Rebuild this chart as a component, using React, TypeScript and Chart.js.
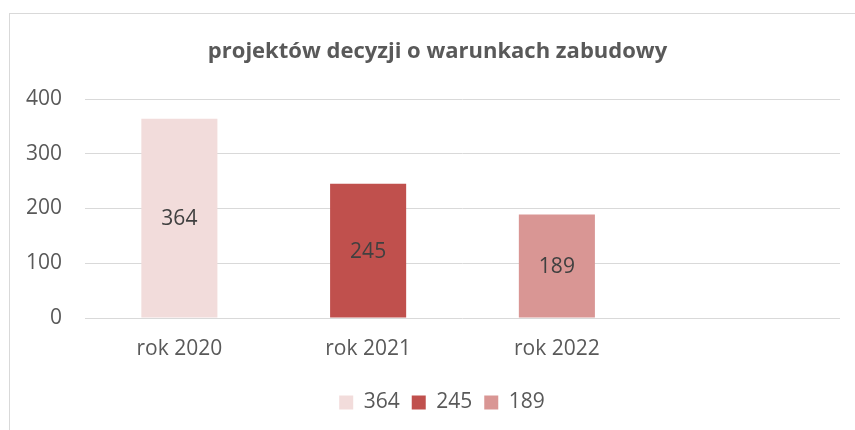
import React, { useEffect, useRef } from 'react';
import { Chart, registerables } from 'chart.js';

Chart.register(...registerables);

const chartTitle = 'projektów decyzji o warunkach zabudowy';
const categories = ['rok 2020', 'rok 2021', 'rok 2022', ''];
const seriesNames = ['364', '245', '189'];
const seriesValues = [364, 245, 189];
const seriesColors = ['#F2DCDB', '#C0504D', '#D99694'];
const yMin = 0;
const yMax = 400;
const yStep = 100;

const FONT = '"Open Sans", "Liberation Sans", sans-serif';

const barLabels = {
  id: 'barLabels',
  afterDatasetsDraw(chart: any) {
    const ctx = chart.ctx;
    chart.data.datasets.forEach((ds: any, i: number) => {
      const meta = chart.getDatasetMeta(i);
      meta.data.forEach((el: any, j: number) => {
        const v = ds.data[j];
        if (v === null || v === undefined) return;
        const p = el.getProps(['x', 'y', 'base'], true);
        ctx.save();
        ctx.font = `21px ${FONT}`;
        ctx.fillStyle = '#404040';
        ctx.textAlign = 'center';
        ctx.textBaseline = 'middle';
        ctx.fillText(String(v), p.x, (p.y + p.base) / 2 + 1);
        ctx.restore();
      });
    });
  },
};

// Shift title and legend horizontally to match the reference's centring
const shiftBoxes = {
  id: 'shiftBoxes',
  afterLayout(chart: any) {
    if (chart.titleBlock) {
      chart.titleBlock.left += 17.5;
      chart.titleBlock.right += 17.5;
    }
    if (chart.legend) {
      chart.legend.left += 22;
      chart.legend.right += 22;
    }
  },
};

export default function App() {
  const ref = useRef<HTMLCanvasElement | null>(null);

  useEffect(() => {
    if (!ref.current) return;
    Chart.defaults.font.family = FONT;
    const datasets = seriesNames.map((name, i) => ({
      label: name,
      data: categories.map((_, j) => (j === i ? seriesValues[i] : null)),
      backgroundColor: seriesColors[i],
      borderWidth: 0,
      barPercentage: 0.403,
      categoryPercentage: 1,
    }));
    const chart = new Chart(ref.current, {
      type: 'bar',
      data: { labels: categories, datasets },
      options: {
        animation: false,
        responsive: false,
        devicePixelRatio: 1,
        layout: { padding: { left: 0, right: 15, top: 0, bottom: 7 } },
        plugins: {
          title: {
            display: true,
            text: chartTitle,
            color: '#595959',
            font: { size: 22, weight: 'bold', family: FONT },
            padding: { top: 39, bottom: 33.6 },
          },
          legend: {
            display: true,
            position: 'bottom',
            labels: {
              boxWidth: 14,
              boxHeight: 14,
              padding: 12,
              color: '#595959',
              font: { size: 21, family: FONT },
            },
          },
          tooltip: { enabled: false },
        },
        scales: {
          x: {
            stacked: true,
            grid: { display: false, drawTicks: false },
            border: { display: false },
            ticks: { color: '#595959', font: { size: 21, family: FONT }, padding: 18 },
            afterFit: (s: any) => { s.height = 62; },
          },
          y: {
            stacked: true,
            min: yMin,
            max: yMax,
            grid: { color: '#D9D9D9', lineWidth: 1, drawTicks: false },
            border: { display: false },
            ticks: { stepSize: yStep, color: '#595959', font: { size: 21, family: FONT }, padding: 23 },
            afterFit: (s: any) => { s.width = 85; },
          },
        },
      },
      plugins: [barLabels, shiftBoxes],
    });
    return () => chart.destroy();
  }, []);

  return (
    <div style={{ position: 'absolute', left: 0, top: 0, width: 855, height: 430, background: '#fff', overflow: 'hidden' }}>
      <div style={{ position: 'absolute', left: 9, top: 13, width: 900, height: 500, borderLeft: '1px solid #D9D9D9', borderTop: '1px solid #D9D9D9' }} />
      <canvas ref={ref} width={855} height={430} style={{ position: 'absolute', left: 0, top: 0, width: 855, height: 430 }} />
    </div>
  );
}
